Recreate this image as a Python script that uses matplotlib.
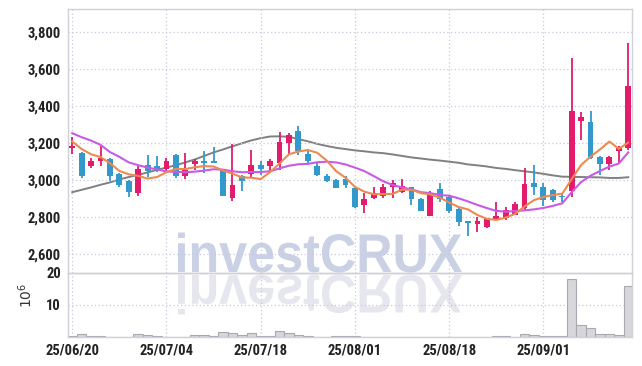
import numpy as np
import matplotlib
matplotlib.use('Agg')
import matplotlib.pyplot as plt
from matplotlib.ticker import FuncFormatter
from matplotlib.textpath import TextPath
from matplotlib.patches import PathPatch
from matplotlib.font_manager import FontProperties
from matplotlib.transforms import Affine2D

# =====================================================================
# DONNÉES
# =====================================================================

dates = [
    '25/06/20', '25/06/23', '25/06/24', '25/06/25', '25/06/26', '25/06/27', '25/06/30',
    '25/07/01', '25/07/02', '25/07/03', '25/07/04', '25/07/07', '25/07/08', '25/07/09',
    '25/07/10', '25/07/11', '25/07/14', '25/07/15', '25/07/16', '25/07/17', '25/07/18',
    '25/07/21', '25/07/22', '25/07/23', '25/07/24', '25/07/25', '25/07/28', '25/07/29',
    '25/07/30', '25/07/31', '25/08/01', '25/08/04', '25/08/05', '25/08/06', '25/08/07',
    '25/08/08', '25/08/11', '25/08/12', '25/08/13', '25/08/14', '25/08/18', '25/08/19',
    '25/08/20', '25/08/21', '25/08/22', '25/08/25', '25/08/26', '25/08/27', '25/08/28',
    '25/08/29', '25/09/01', '25/09/02', '25/09/03', '25/09/04', '25/09/05', '25/09/08',
    '25/09/09', '25/09/10', '25/09/11', '25/09/12',
]

opens = [3175, 3146, 3074, 3101, 3115, 3036, 2996, 2930, 3083, 3077,
         3060, 3137, 3025, 3090, 3095, 3098, 3059, 2903, 3020, 3034,
         3083, 3074, 3093, 3200, 3266, 3142, 3077, 3023, 3002, 3007,
         2960, 2866, 2903, 2915, 2962, 2938, 2962, 2897, 2809, 2953,
         2911, 2843, 2773, 2762, 2746, 2789, 2795, 2812, 2849, 2987,
         2964, 2948, 2910, 2944, 3322, 3313, 3124, 3086, 3160, 3173]
highs = [3235, 3150, 3122, 3185, 3118, 3041, 2999, 3080, 3137, 3133,
         3120, 3140, 3146, 3115, 3160, 3178, 3062, 3195, 3029, 3164,
         3106, 3115, 3260, 3257, 3295, 3168, 3092, 3032, 3007, 3020,
         2965, 2933, 2962, 2978, 3002, 3007, 2965, 2906, 2944, 2984,
         2920, 2848, 2775, 2803, 2795, 2884, 2857, 2884, 3065, 3083,
         2984, 2953, 2930, 3659, 3371, 3375, 3133, 3130, 3187, 3740]
lows = [3140, 3011, 3068, 3075, 2995, 2964, 2911, 2912, 3015, 3046,
        3040, 3011, 3005, 3056, 3040, 3093, 2912, 2890, 2942, 3010,
        3030, 3045, 3055, 3137, 3137, 3086, 3020, 2989, 2957, 2960,
        2849, 2822, 2897, 2903, 2906, 2930, 2866, 2833, 2806, 2884,
        2822, 2755, 2699, 2722, 2743, 2785, 2785, 2810, 2840, 2921,
        2863, 2884, 2881, 2911, 3218, 3115, 3029, 3056, 3095, 3165]
closes = [3185, 3025, 3104, 3122, 3025, 2975, 2935, 3060, 3052, 3063,
          3103, 3025, 3056, 3101, 3093, 3095, 2915, 2975, 2998, 3083,
          3061, 3104, 3205, 3245, 3158, 3101, 3029, 2998, 2960, 2975,
          2857, 2899, 2930, 2962, 2984, 2969, 2897, 2836, 2930, 2897,
          2836, 2776, 2770, 2782, 2789, 2809, 2839, 2872, 2980, 2962,
          2894, 2894, 2907, 3375, 3341, 3119, 3086, 3124, 3176, 3510]

# volume en millions de titres
volumes = [0.4, 0.9, 0.2, 0.2, 0.1, 0.1, 0.1, 0.8, 0.5, 0.4,
           0.1, 0.1, 0.1, 0.5, 0.5, 0.2, 1.4, 1.1, 0.5, 1.1,
           0.3, 0.3, 1.8, 1.1, 0.5, 0.2, 0.1, 0.1, 0.4, 0.2,
           0.4, 0.1, 0.1, 0.1, 0.1, 0.1, 0.1, 0.1, 0.1, 0.1,
           0.1, 0.1, 0.1, 0.05, 0.1, 0.2, 0.2, 0.1, 0.8, 0.5,
           0.2, 0.2, 0.2, 18.1, 3.7, 2.8, 0.8, 0.8, 0.5, 15.8]

# moyennes mobiles (courte, moyenne, longue)
ma_short = [3209, 3168, 3140, 3125, 3092, 3050, 3032, 3023, 3009, 3017,
            3043, 3061, 3060, 3070, 3076, 3074, 3052, 3036, 3015, 3013,
            3006, 3044, 3090, 3140, 3155, 3163, 3148, 3106, 3049, 3013,
            2964, 2938, 2924, 2925, 2926, 2949, 2948, 2930, 2923, 2906,
            2879, 2855, 2842, 2812, 2791, 2785, 2798, 2818, 2858, 2892,
            2909, 2920, 2927, 3006, 3082, 3127, 3166, 3209, 3169, 3203]
ma_mid = [3254, 3232, 3214, 3191, 3152, 3126, 3096, 3081, 3068, 3058,
          3047, 3045, 3043, 3046, 3052, 3059, 3057, 3048, 3043, 3044,
          3044, 3048, 3064, 3078, 3086, 3088, 3097, 3100, 3096, 3085,
          3068, 3049, 3022, 2994, 2974, 2961, 2950, 2935, 2930, 2920,
          2916, 2902, 2885, 2866, 2849, 2834, 2830, 2833, 2837, 2842,
          2850, 2861, 2875, 2935, 2990, 3024, 3050, 3073, 3090, 3150]
ma_long = [2935, 2948, 2961, 2975, 2988, 3004, 3017, 3029, 3042, 3056,
           3068, 3081, 3096, 3112, 3131, 3150, 3166, 3183, 3199, 3215,
           3227, 3236, 3237, 3234, 3222, 3210, 3196, 3185, 3175, 3168,
           3161, 3156, 3150, 3146, 3139, 3131, 3123, 3117, 3111, 3106,
           3100, 3094, 3085, 3080, 3074, 3066, 3061, 3054, 3048, 3042,
           3034, 3026, 3019, 3018, 3017, 3016, 3015, 3012, 3012, 3016]

tick_dates = ['25/06/20', '25/07/04', '25/07/18', '25/08/01', '25/08/18', '25/09/01']
price_ticks = [2600, 2800, 3000, 3200, 3400, 3600, 3800]
volume_ticks = [10, 20]

# =====================================================================
# STYLE
# =====================================================================

UP = '#e31b6b'
DOWN = '#3399cc'
GRID = '#c8c8de'
SPINE = '#d0d0d8'
TICK_FAMILY = ['Roboto Condensed', 'Roboto', 'DejaVu Sans']

W, H = 642, 366
fig = plt.figure(figsize=(W / 100, H / 100), dpi=100)

ax = fig.add_axes([68 / W, 1 - 272.7 / H, 564 / W, 263.7 / H])
axv = fig.add_axes([68 / W, 1 - 337 / H, 564 / W, 64.3 / H], sharex=ax)
for a in (ax, axv):
    a.set_facecolor('none')
    for s in a.spines.values():
        s.set_color(SPINE)
        s.set_linewidth(1.0)
    a.grid(True, color=GRID, linestyle=(0, (1, 2)), lw=0.9)
    a.tick_params(length=0, pad=5)

x = np.arange(len(dates))
o, h, l, c = map(np.array, (opens, highs, lows, closes))
colors = np.where(c >= o, UP, DOWN)

# --- bougies ---
ax.plot(x, ma_long, color='#808080', lw=1.4, zorder=1)
ax.vlines(x, l, h, colors=colors, lw=1.3, zorder=2)
ax.bar(x, np.maximum(np.abs(c - o), 8), bottom=np.minimum(o, c), width=0.62,
       color=colors, lw=0, zorder=3)
ax.plot(x, ma_mid, color='#c95ae8', lw=1.5, zorder=4)
ax.plot(x, ma_short, color='#ee8a4f', lw=1.5, zorder=4)

ax.set_ylim(2500, 3925)
ax.set_xlim(-0.45, 59.4)
ax.set_yticks(price_ticks)
ax.yaxis.set_major_formatter(FuncFormatter(lambda v, p: f'{v:,.0f}'))
plt.setp(ax.get_xticklabels(), visible=False)

# --- volume ---
axv.bar(x, volumes, width=1.0, color='#d6d6db', edgecolor='#a8a8b2', lw=0.8, zorder=2)
axv.set_ylim(0, 20)
axv.set_yticks(volume_ticks)
axv.set_xticks([dates.index(d) for d in tick_dates])
axv.set_xticklabels(tick_dates)
axv.set_ylabel(r'$10^6$', fontsize=10, color='#333333')
axv.yaxis.set_label_coords(-0.058, 0.65)

for a in (ax, axv):
    for lab in a.get_xticklabels() + a.get_yticklabels():
        lab.set_fontproperties(FontProperties(family=TICK_FAMILY, weight='bold', size=10.5))
        lab.set_color('#222222')

# --- filigrane investCRUX + reflet ---
fp = FontProperties(family='Liberation Sans', weight='bold')
tp = TextPath((0, 0), 'investCRUX', size=100, prop=fp)
ext = tp.get_extents()
sx = 284 / ext.width
sy = 40 / ext.height
left, base = 178, H - 272
mark = PathPatch(tp, transform=Affine2D().translate(-ext.x0, 0).scale(sx, sy).translate(left, base),
                 color='#cad1e4', lw=0, zorder=-1)
refl = PathPatch(tp, transform=Affine2D().translate(-ext.x0, 0).scale(sx, -sy).translate(left, base - 3),
                 color='#e6e6ee', lw=0, zorder=-1)
fig.add_artist(refl)
fig.add_artist(mark)

fig.savefig('out.png', dpi=100)
